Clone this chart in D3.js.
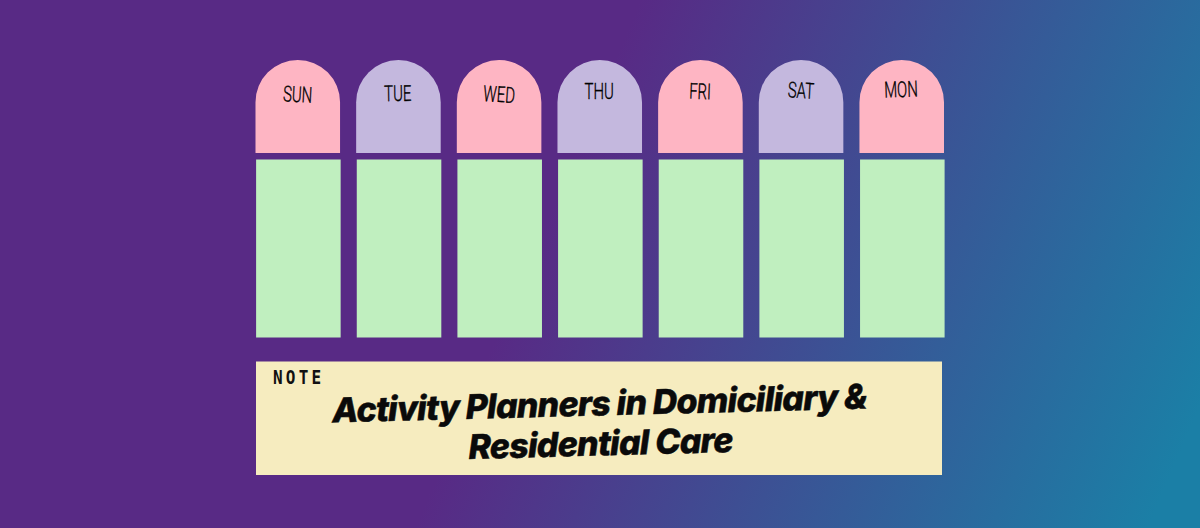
<!DOCTYPE html>
<html>
<head>
<meta charset="utf-8">
<script src="https://cdn.jsdelivr.net/npm/d3@7"></script>
<style>
html, body { margin: 0; padding: 0; background: #582a85; overflow: hidden; }
svg { display: block; }
</style>
</head>
<body>
<div id="chart"></div>
<script>
const width = 1200;
const height = 528;

// order as it appears on the planner
const days = ["SUN", "TUE", "WED", "THU", "FRI", "SAT", "MON"];
const dayTilt = [3, -1, 4, 0, 2, 3, -2];
const dayLift = [0, 1, 0, 3, 3, 4, 5];
const titleLines = ["Activity Planners in Domiciliary &", "Residential Care"];
const noteLabel = "NOTE";

const pink = "#feb5c3";
const lilac = "#c4b8de";
const mint = "#c0efbf";
const cream = "#f6ecbf";

const svg = d3.select("#chart")
    .append("svg")
    .attr("width", width)
    .attr("height", height);

const defs = svg.append("defs");
const grad = defs.append("linearGradient")
    .attr("id", "bg")
    .attr("gradientUnits", "userSpaceOnUse")
    .attr("x1", 585).attr("y1", 130)
    .attr("x2", 1205).attr("y2", 395);
grad.append("stop").attr("offset", "0%").attr("stop-color", "#582a85");
grad.append("stop").attr("offset", "100%").attr("stop-color", "#1b7fa6");

svg.append("rect").attr("width", width).attr("height", height).attr("fill", "url(#bg)");

const x = d3.scaleBand().domain(days).range([255.5, 944]).paddingInner(0.16);
const bw = x.bandwidth();

const capTop = 60;
const capBottom = 153;
const r = bw / 2;

// rounded tab on top of each column
const caps = svg.selectAll(".cap").data(days).enter().append("path")
    .attr("class", "cap")
    .attr("fill", (d, i) => i % 2 === 0 ? pink : lilac)
    .attr("d", d => {
        const p = d3.path();
        const x0 = x(d);
        p.moveTo(x0, capBottom);
        p.lineTo(x0, capTop + r);
        p.arc(x0 + r, capTop + r, r, Math.PI, 0);
        p.lineTo(x0 + bw, capBottom);
        p.closePath();
        return p.toString();
    });

svg.selectAll(".body").data(days).enter().append("rect")
    .attr("class", "body")
    .attr("x", d => x(d) + 0.6)
    .attr("y", 159.5)
    .attr("width", bw)
    .attr("height", 178)
    .attr("fill", mint);

svg.selectAll(".day").data(days).enter().append("text")
    .attr("class", "day")
    .attr("transform", (d, i) => `translate(${x(d) + r - 0.5},${102 - dayLift[i]}) rotate(${dayTilt[i]}) scale(0.68,1)`)
    .attr("text-anchor", "middle")
    .attr("font-family", "Roboto, sans-serif")
    .attr("font-weight", 300)
    .attr("font-size", 22)
    .attr("fill", "#000")
    .attr("stroke", "#000")
    .attr("stroke-width", 0.35)
    .text(d => d);

svg.append("rect")
    .attr("x", 256).attr("y", 361.5)
    .attr("width", 686).attr("height", 113.5)
    .attr("fill", cream);

svg.append("text")
    .attr("transform", "translate(273,384) scale(0.8,1)")
    .attr("font-family", "'DejaVu Sans Mono', monospace")
    .attr("font-weight", 700)
    .attr("font-size", 20)
    .attr("letter-spacing", 4)
    .attr("fill", "#111")
    .text(noteLabel);

const title = svg.append("g").attr("transform", "rotate(-1.5 600 425)");
title.selectAll("text").data(titleLines).enter().append("text")
    .attr("x", 600)
    .attr("y", (d, i) => 415.5 + i * 40)
    .attr("text-anchor", "middle")
    .attr("font-family", "Inter, Roboto, sans-serif")
    .attr("font-weight", 800)
    .attr("font-style", "italic")
    .attr("font-size", 34)
    .attr("letter-spacing", -0.8)
    .attr("stroke", "#0a0a0a")
    .attr("stroke-width", 0.5)
    .attr("fill", "#0a0a0a")
    .text(d => d);
</script>
</body>
</html>
